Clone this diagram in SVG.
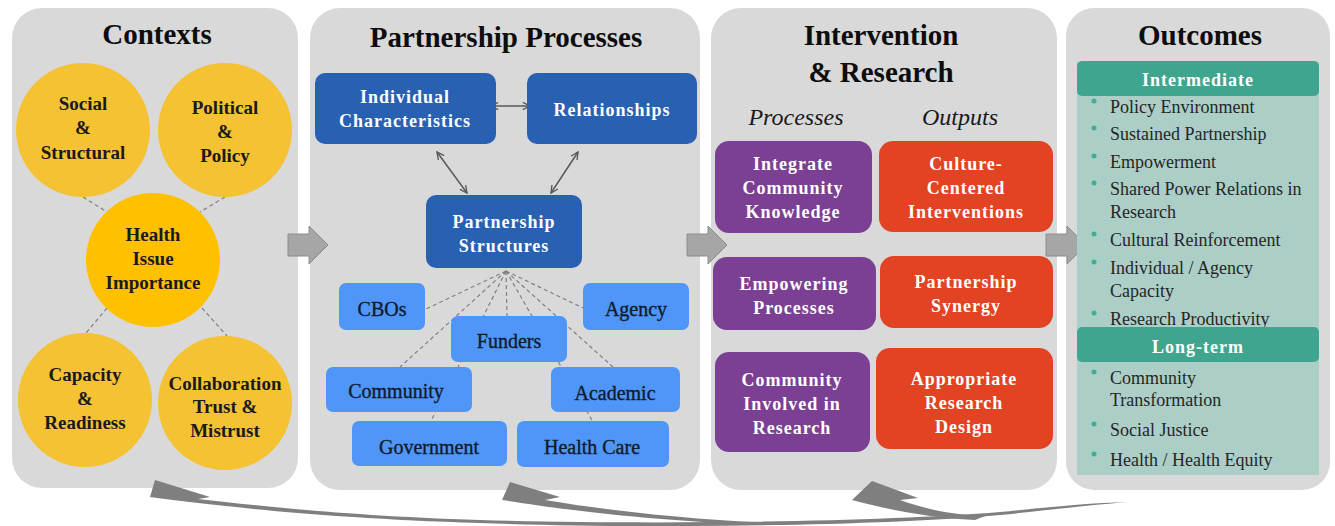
<svg xmlns="http://www.w3.org/2000/svg" width="1335" height="526" viewBox="0 0 1335 526">
<style>
.panel{fill:#d9d9d9}
.title{font-family:"Liberation Serif","Times New Roman",serif;font-weight:bold;font-size:29px;fill:#0d0d0d;text-anchor:middle}
.ital{font-family:"Liberation Serif","Times New Roman",serif;font-style:italic;font-size:24px;fill:#1a1a1a;text-anchor:middle}
.circ{fill:#f4c232}
.circ2{fill:#ffc000}
.clabel{font-family:"Liberation Serif","Times New Roman",serif;font-weight:bold;font-size:19px;fill:#1a1a1a;text-anchor:middle}
.dk{fill:#2860b2}
.wlabel{font-family:"Liberation Serif","Times New Roman",serif;font-weight:bold;font-size:18px;fill:#ffffff;letter-spacing:1px;text-anchor:middle}
.lb{fill:#4f96f8}
.blabel{font-family:"Liberation Serif","Times New Roman",serif;font-size:20px;fill:#0f1b2c;stroke:#0f1b2c;stroke-width:0.35;text-anchor:middle}
.purple{fill:#7b3f94}
.orange{fill:#e24322}
.hdr{fill:#3fa58e}
.tbody{fill:#abcec7}
.bul{font-family:"Liberation Serif","Times New Roman",serif;font-size:18px;fill:#262626}
.dot{fill:#3fae94}
.dash{stroke:#808080;stroke-width:1.2;stroke-dasharray:4 3;fill:none}
.dbl{stroke:#595959;stroke-width:1.5;fill:none;marker-start:url(#v);marker-end:url(#v)}
.block{fill:#a6a6a6;stroke:#8c8c8c;stroke-width:1}
.sweep{fill:#7f7f7f}
</style>
<defs>
<marker id="v" viewBox="0 0 10 10" refX="9" refY="5" markerWidth="9" markerHeight="9" markerUnits="userSpaceOnUse" orient="auto-start-reverse">
<path d="M1,1 L9,5 L1,9" fill="none" stroke="#595959" stroke-width="1.5"/>
</marker>
</defs>

<g id="panel-contexts">
<rect class="panel" x="12" y="8" width="286" height="480" rx="30"/>
<text class="title" x="157" y="44">Contexts</text>
</g>
<g id="panel-partnership">
<rect class="panel" x="310" y="8" width="390" height="482" rx="30"/>
<text class="title" x="506" y="47">Partnership Processes</text>
</g>
<g id="panel-intervention">
<rect class="panel" x="711" y="8" width="346" height="482" rx="30"/>
<text class="title" x="881" y="45">Intervention</text>
<text class="title" x="881" y="82">&amp; Research</text>
<text class="ital" x="796" y="125">Processes</text>
<text class="ital" x="960" y="125">Outputs</text>
</g>
<g id="panel-outcomes">
<rect class="panel" x="1066" y="8" width="264" height="482" rx="28"/>
<text class="title" x="1200" y="45">Outcomes</text>
</g>

<g id="connectors">
<line class="dash" x1="83" y1="197" x2="107" y2="212"/>
<line class="dash" x1="225" y1="197" x2="200" y2="212"/>
<line class="dash" x1="107" y1="308" x2="86" y2="333"/>
<line class="dash" x1="202" y1="308" x2="227" y2="336"/>
<line class="dash" x1="506" y1="271" x2="426" y2="309"/>
<line class="dash" x1="506" y1="271" x2="400" y2="367"/>
<line class="dash" x1="506" y1="271" x2="431" y2="421"/>
<line class="dash" x1="506" y1="271" x2="507" y2="316"/>
<line class="dash" x1="506" y1="271" x2="593" y2="422"/>
<line class="dash" x1="506" y1="271" x2="613" y2="367"/>
<line class="dash" x1="506" y1="271" x2="583" y2="308"/>
<line class="dbl" x1="491" y1="106" x2="530" y2="106"/>
<line class="dbl" x1="437" y1="152" x2="467" y2="193"/>
<line class="dbl" x1="578" y1="152" x2="551" y2="193"/>
<path class="block" d="M288,234 H309 V226 L328,245 L309,264 V256 H288 Z"/>
<path class="block" d="M687,234 H708 V226 L727,245 L708,264 V256 H687 Z"/>
<path class="block" d="M1046,234 H1067 V226 L1086,245 L1067,264 V256 H1046 Z"/>
<path class="sweep" d="M155,480 L150,497 C220,506 320,518 480,523 C650,529 880,526 1000,515 C1050,510 1090,505 1128,502 C1090,503 1050,507 1000,512 C880,522 650,525 480,520 C350,516 260,506 198,499 L210,497 Z"/>
<path class="sweep" d="M510,482 L502,500 C560,509 640,520 760,525 L800,524 C700,521 610,511 545,500 L560,497 Z"/>
<path class="sweep" d="M872,481 L852,500 C890,510 930,518 975,520 L985,516 C950,515 922,508 900,500 L918,498 Z"/>
</g>

<g id="social-structural">
<circle class="circ" cx="83" cy="130" r="67"/>
<text class="clabel" x="83" y="110">Social</text>
<text class="clabel" x="83" y="134">&amp;</text>
<text class="clabel" x="83" y="159">Structural</text>
</g>
<g id="political-policy">
<circle class="circ" cx="225" cy="130" r="67"/>
<text class="clabel" x="225" y="114">Political</text>
<text class="clabel" x="225" y="138">&amp;</text>
<text class="clabel" x="225" y="162">Policy</text>
</g>
<g id="health-issue">
<circle class="circ2" cx="153" cy="260" r="67"/>
<text class="clabel" x="153" y="241">Health</text>
<text class="clabel" x="153" y="265">Issue</text>
<text class="clabel" x="153" y="289">Importance</text>
</g>
<g id="capacity-readiness">
<circle class="circ" cx="85" cy="400" r="67"/>
<text class="clabel" x="85" y="381">Capacity</text>
<text class="clabel" x="85" y="405">&amp;</text>
<text class="clabel" x="85" y="429">Readiness</text>
</g>
<g id="collaboration-trust">
<circle class="circ" cx="225" cy="403" r="67"/>
<text class="clabel" x="225" y="390">Collaboration</text>
<text class="clabel" x="225" y="413">Trust &amp;</text>
<text class="clabel" x="225" y="437">Mistrust</text>
</g>

<g id="individual-characteristics">
<rect class="dk" x="315" y="73" width="181" height="71" rx="10"/>
<text class="wlabel" x="405" y="103">Individual</text>
<text class="wlabel" x="405" y="127">Characteristics</text>
</g>
<g id="relationships">
<rect class="dk" x="527" y="73" width="170" height="71" rx="10"/>
<text class="wlabel" x="612" y="116">Relationships</text>
</g>
<g id="partnership-structures">
<rect class="dk" x="426" y="195" width="156" height="73" rx="10"/>
<text class="wlabel" x="504" y="228">Partnership</text>
<text class="wlabel" x="504" y="252">Structures</text>
</g>
<g id="cbos">
<rect class="lb" x="339" y="283" width="86" height="47" rx="7"/>
<text class="blabel" x="382" y="316">CBOs</text>
</g>
<g id="agency">
<rect class="lb" x="583" y="283" width="106" height="47" rx="7"/>
<text class="blabel" x="636" y="316">Agency</text>
</g>
<g id="funders">
<rect class="lb" x="451" y="316" width="116" height="46" rx="7"/>
<text class="blabel" x="509" y="348">Funders</text>
</g>
<g id="community">
<rect class="lb" x="326" y="367" width="146" height="45" rx="7"/>
<text class="blabel" x="396" y="398">Community</text>
</g>
<g id="academic">
<rect class="lb" x="551" y="367" width="129" height="45" rx="7"/>
<text class="blabel" x="615" y="400">Academic</text>
</g>
<g id="government">
<rect class="lb" x="352" y="421" width="155" height="45" rx="7"/>
<text class="blabel" x="429" y="454">Government</text>
</g>
<g id="health-care">
<rect class="lb" x="517" y="421" width="152" height="46" rx="7"/>
<text class="blabel" x="592" y="454">Health Care</text>
</g>

<g id="integrate-knowledge">
<rect class="purple" x="715" y="141" width="157" height="92" rx="14"/>
<text class="wlabel" x="793" y="170">Integrate</text>
<text class="wlabel" x="793" y="194">Community</text>
<text class="wlabel" x="793" y="218">Knowledge</text>
</g>
<g id="culture-centered">
<rect class="orange" x="879" y="141" width="174" height="91" rx="14"/>
<text class="wlabel" x="966" y="170">Culture-</text>
<text class="wlabel" x="966" y="194">Centered</text>
<text class="wlabel" x="966" y="218">Interventions</text>
</g>
<g id="empowering-processes">
<rect class="purple" x="713" y="257" width="163" height="73" rx="14"/>
<text class="wlabel" x="794" y="290">Empowering</text>
<text class="wlabel" x="794" y="314">Processes</text>
</g>
<g id="partnership-synergy">
<rect class="orange" x="880" y="256" width="173" height="72" rx="14"/>
<text class="wlabel" x="966" y="288">Partnership</text>
<text class="wlabel" x="966" y="312">Synergy</text>
</g>
<g id="community-involved">
<rect class="purple" x="715" y="352" width="155" height="100" rx="14"/>
<text class="wlabel" x="792" y="386">Community</text>
<text class="wlabel" x="792" y="410">Involved in</text>
<text class="wlabel" x="792" y="434">Research</text>
</g>
<g id="appropriate-design">
<rect class="orange" x="876" y="348" width="177" height="101" rx="14"/>
<text class="wlabel" x="964" y="385">Appropriate</text>
<text class="wlabel" x="964" y="409">Research</text>
<text class="wlabel" x="964" y="433">Design</text>
</g>

<g id="outcomes-list">
<rect class="tbody" x="1077" y="62" width="242" height="413"/>
<rect class="hdr" x="1077" y="61" width="242" height="35" rx="5"/>
<text class="wlabel" x="1198" y="86">Intermediate</text>
<circle class="dot" cx="1094" cy="101" r="2.5"/>
<text class="bul" x="1110" y="113">Policy Environment</text>
<circle class="dot" cx="1094" cy="128" r="2.5"/>
<text class="bul" x="1110" y="140">Sustained Partnership</text>
<circle class="dot" cx="1094" cy="156" r="2.5"/>
<text class="bul" x="1110" y="168">Empowerment</text>
<circle class="dot" cx="1094" cy="183" r="2.5"/>
<text class="bul" x="1110" y="195">Shared Power Relations in</text>
<text class="bul" x="1110" y="218">Research</text>
<circle class="dot" cx="1094" cy="234" r="2.5"/>
<text class="bul" x="1110" y="246">Cultural Reinforcement</text>
<circle class="dot" cx="1094" cy="262" r="2.5"/>
<text class="bul" x="1110" y="274">Individual / Agency</text>
<text class="bul" x="1110" y="297">Capacity</text>
<circle class="dot" cx="1094" cy="313" r="2.5"/>
<text class="bul" x="1110" y="325">Research Productivity</text>
<rect class="hdr" x="1077" y="327" width="242" height="35" rx="5"/>
<text class="wlabel" x="1198" y="353">Long-term</text>
<circle class="dot" cx="1094" cy="372" r="2.5"/>
<text class="bul" x="1110" y="384">Community</text>
<text class="bul" x="1110" y="406">Transformation</text>
<circle class="dot" cx="1094" cy="424" r="2.5"/>
<text class="bul" x="1110" y="436">Social Justice</text>
<circle class="dot" cx="1094" cy="454" r="2.5"/>
<text class="bul" x="1110" y="466">Health / Health Equity</text>
</g>
</svg>
